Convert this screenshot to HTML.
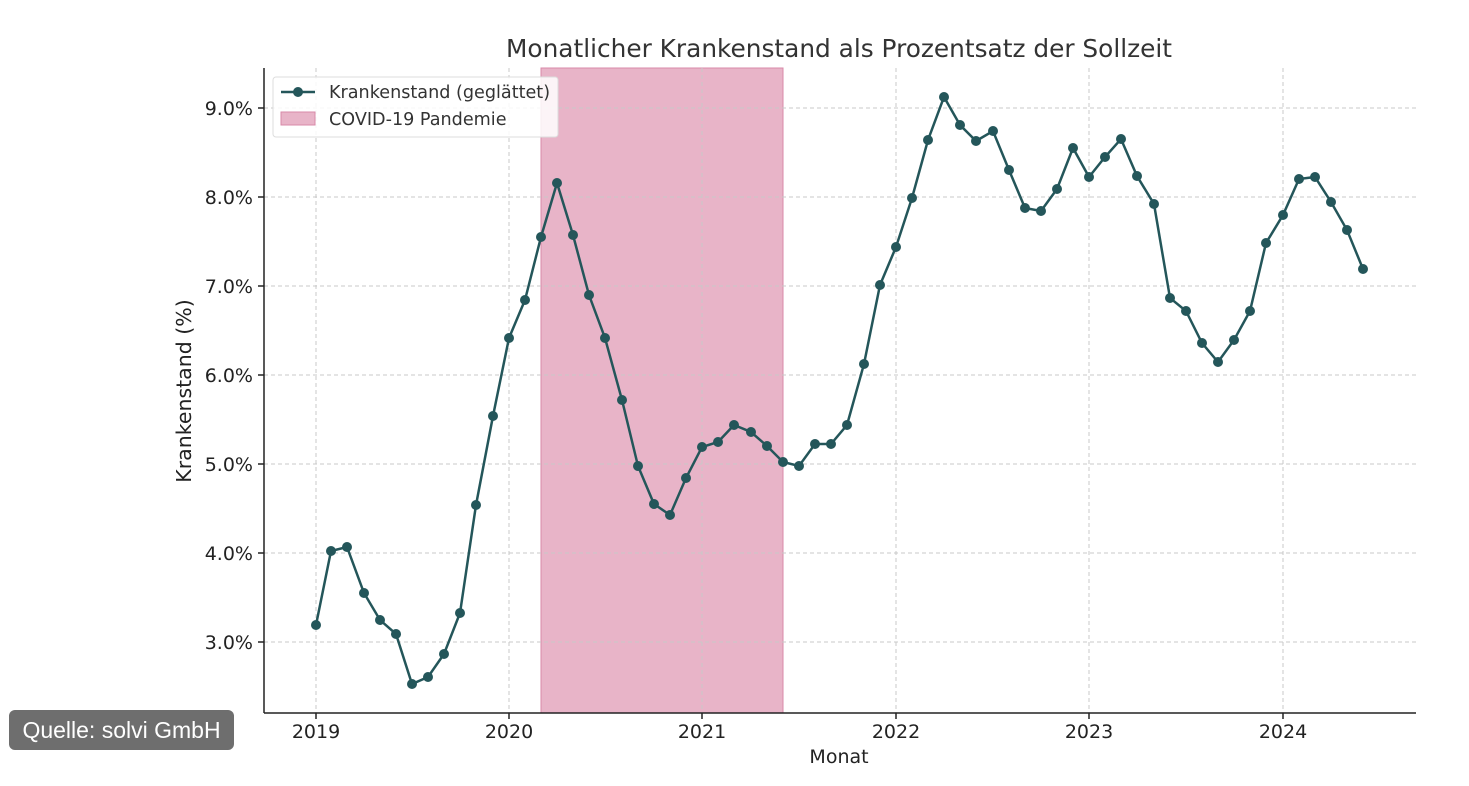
<!DOCTYPE html>
<html><head><meta charset="utf-8"><style>
body{margin:0;background:#fff;width:1469px;height:786px;overflow:hidden;position:relative;font-family:"DejaVu Sans","Liberation Sans",sans-serif}
.q{position:absolute;left:9px;top:710px;width:225px;height:40px;background:#6e6e6e;border-radius:6px;color:#fff;font:23px "Liberation Sans",sans-serif;line-height:40px;text-align:center}
</style></head><body>
<svg width="1469" height="786" style="position:absolute;left:0;top:0">
<rect x="541" y="68" width="242" height="645" fill="#e8b4c8" stroke="#d88aa8" stroke-width="1"/>
<g stroke="#c8c8c8" stroke-dasharray="4,3" stroke-width="1">
<line x1="264" x2="1416" y1="108" y2="108"/><line x1="264" x2="1416" y1="197" y2="197"/><line x1="264" x2="1416" y1="286" y2="286"/><line x1="264" x2="1416" y1="375" y2="375"/><line x1="264" x2="1416" y1="464" y2="464"/><line x1="264" x2="1416" y1="553" y2="553"/><line x1="264" x2="1416" y1="642" y2="642"/>
<line x1="316" x2="316" y1="68" y2="713"/><line x1="509" x2="509" y1="68" y2="713"/><line x1="702" x2="702" y1="68" y2="713"/><line x1="896" x2="896" y1="68" y2="713"/><line x1="1089" x2="1089" y1="68" y2="713"/><line x1="1283" x2="1283" y1="68" y2="713"/>
</g>
<g stroke="#222" stroke-width="1.5"><line x1="264" y1="68" x2="264" y2="713"/><line x1="264" y1="713" x2="1416" y2="713"/>
<line x1="258" x2="264" y1="108" y2="108"/><line x1="258" x2="264" y1="197" y2="197"/><line x1="258" x2="264" y1="286" y2="286"/><line x1="258" x2="264" y1="375" y2="375"/><line x1="258" x2="264" y1="464" y2="464"/><line x1="258" x2="264" y1="553" y2="553"/><line x1="258" x2="264" y1="642" y2="642"/>
<line x1="316" x2="316" y1="713" y2="719"/><line x1="509" x2="509" y1="713" y2="719"/><line x1="702" x2="702" y1="713" y2="719"/><line x1="896" x2="896" y1="713" y2="719"/><line x1="1089" x2="1089" y1="713" y2="719"/><line x1="1283" x2="1283" y1="713" y2="719"/></g>
<g font-size="19" fill="#222" text-anchor="end">
<text x="253" y="115">9.0%</text><text x="253" y="204">8.0%</text><text x="253" y="293">7.0%</text><text x="253" y="382">6.0%</text><text x="253" y="471">5.0%</text><text x="253" y="560">4.0%</text><text x="253" y="649">3.0%</text></g>
<g font-size="19" fill="#222" text-anchor="middle">
<text x="316" y="738">2019</text><text x="509" y="738">2020</text><text x="702" y="738">2021</text><text x="896" y="738">2022</text><text x="1089" y="738">2023</text><text x="1283" y="738">2024</text>
<text x="839" y="763">Monat</text>
<text x="839" y="57" font-size="24.8" fill="#333">Monatlicher Krankenstand als Prozentsatz der Sollzeit</text>
<text transform="translate(191,391) rotate(-90)" font-size="20.5">Krankenstand (%)</text></g>
<polyline id="p" fill="none" stroke="#24565a" stroke-width="2.5" points="316,625 331,551 347,547 364,593 380,620 396,634 412,684 428,677 444,654 460,613 476,505 493,416 509,338 525,300 541,237 557,183 573,235 589,295 605,338 622,400 638,466 654,504 670,515 686,478 702,447 718,442 734,425 751,432 767,446 783,462 799,466 815,444 831,444 847,425 864,364 880,285 896,247 912,198 928,140 944,97 960,125 976,141 993,131 1009,170 1025,208 1041,211 1057,189 1073,148 1089,177 1105,157 1121,139 1137,176 1154,204 1170,298 1186,311 1202,343 1218,362 1234,340 1250,311 1266,243 1283,215 1299,179 1315,177 1331,202 1347,230 1363,269"/>
<g id="dots" fill="#24565a"></g>
<rect x="273" y="77" width="285" height="60" rx="3" fill="#fff" fill-opacity="0.85" stroke="#ddd"/>
<line x1="281" y1="92" x2="315" y2="92" stroke="#24565a" stroke-width="2.5"/><circle cx="298" cy="92" r="5" fill="#24565a"/>
<rect x="281" y="112" width="34" height="13" fill="#e8b4c8" stroke="#d88aa8"/>
<text x="329" y="98" font-size="17.6" fill="#333">Krankenstand (geglättet)</text>
<text x="329" y="125" font-size="17.6" fill="#333">COVID-19 Pandemie</text>
</svg>
<div class="q">Quelle: solvi GmbH</div>
<script>
var pts=document.getElementById('p').getAttribute('points').trim().split(/\s+/),g=document.getElementById('dots');
pts.forEach(function(s){var a=s.split(',');var c=document.createElementNS('http://www.w3.org/2000/svg','circle');c.setAttribute('cx',a[0]);c.setAttribute('cy',a[1]);c.setAttribute('r','5');g.appendChild(c);});
</script>
</body></html>
